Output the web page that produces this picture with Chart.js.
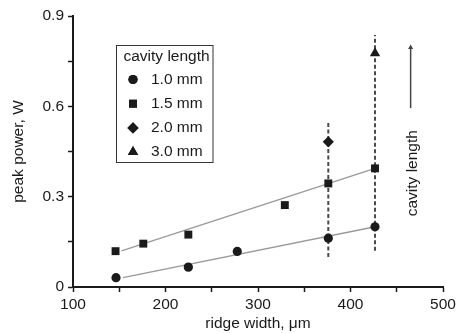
<!DOCTYPE html>
<html>
<head>
<meta charset="utf-8">
<script src="https://cdn.jsdelivr.net/npm/chart.js@4/dist/chart.umd.min.js"></script>
<style>
  html, body { margin: 0; padding: 0; background: #fff; }
  #wrap { width: 459px; height: 333px; position: relative; }
</style>
</head>
<body>
<div id="wrap"><canvas id="c" width="459" height="333"></canvas></div>
<script>
// ---- data ----
const xTickLabels = [100, 200, 300, 400, 500];
const yTickLabels = [0, 0.3, 0.6, 0.9];
const legendTitle = 'cavity length';
const seriesNames = ['1.0 mm', '1.5 mm', '2.0 mm', '3.0 mm'];

const width10x = [146.5, 224.7, 277.6, 376, 426.5];   // 1.0 mm ridge widths
const power10  = [0.031, 0.066, 0.118, 0.162, 0.200];
const width15x = [146, 176, 224.7, 329, 376, 426.5];  // 1.5 mm
const power15  = [0.119, 0.144, 0.174, 0.272, 0.344, 0.394];
const width20x = [376];                               // 2.0 mm
const power20  = [0.482];
const width30x = [426.5];                             // 3.0 mm
const power30  = [0.776];

const fit10x = [154, 426.5];
const fit10y = [0.031, 0.200];
const fit15x = [152.5, 426.5];
const fit15y = [0.120, 0.394];

const vline1x = [376, 376];
const vline1y = [0.100, 0.553];
const vline2x = [426.5, 426.5];
const vline2y = [0.120, 0.837];

const arrowX = [465, 465];
const arrowY = [0.594, 0.795];
const arrowLabel = 'cavity length';
const arrowLabelPos = [467.5, 0.378];

const xAxisTitle = 'ridge width, \u03bcm';
const yAxisTitle = 'peak power, W';

// ---- helpers ----
const pts = (xs, ys) => xs.map((x, i) => ({ x: x, y: ys[i] }));
const INK = '#1a1a1a';
const FONT = "'Liberation Sans', Arial, sans-serif";
const FS = 15.5;

const markerStyles = [
  { pointStyle: 'circle', radius: 4.6 },
  { pointStyle: 'rect', radius: 5.6 },
  { pointStyle: 'rectRot', radius: 5.6 },
  { pointStyle: 'triangle', radius: 6 }
];

function scatterSet(label, xs, ys, idx) {
  return {
    type: 'scatter', label: label, data: pts(xs, ys),
    pointStyle: markerStyles[idx].pointStyle,
    pointRadius: markerStyles[idx].radius,
    backgroundColor: INK, borderColor: INK, borderWidth: 0, order: 0
  };
}
function lineSet(xs, ys, color, width, dash) {
  return {
    type: 'line', data: pts(xs, ys), borderColor: color, borderWidth: width,
    borderDash: dash || [], pointRadius: 0, fill: false, order: 2
  };
}

const arrowSet = {
  type: 'line', data: pts(arrowX, arrowY), borderColor: '#444', borderWidth: 1.5,
  pointStyle: 'triangle', pointRadius: [0, 3], backgroundColor: '#444',
  pointBorderWidth: 0, fill: false, order: 1
};

const overlayPlugin = {
  id: 'overlay',
  afterDatasetsDraw(chart) {
    const ctx = chart.ctx;
    const xs = chart.scales.x, ys = chart.scales.y;
    ctx.save();
    // rotated arrow label
    ctx.translate(xs.getPixelForValue(arrowLabelPos[0]), ys.getPixelForValue(arrowLabelPos[1]));
    ctx.rotate(-Math.PI / 2);
    ctx.fillStyle = INK;
    ctx.font = FS + 'px ' + FONT;
    ctx.textAlign = 'center';
    ctx.textBaseline = 'middle';
    ctx.fillText(arrowLabel, 0, 0);
    ctx.restore();

    // legend box
    ctx.save();
    const bx = 116.5, by = 45.5, bw = 96.5, bh = 117;
    ctx.fillStyle = '#fff';
    ctx.fillRect(bx, by, bw, bh);
    ctx.strokeStyle = '#333';
    ctx.lineWidth = 1;
    ctx.strokeRect(bx, by, bw, bh);
    ctx.fillStyle = INK;
    ctx.font = FS + 'px ' + FONT;
    ctx.textBaseline = 'middle';
    ctx.textAlign = 'left';
    ctx.fillText(legendTitle, 123.5, 57);
    seriesNames.forEach((name, i) => {
      const yy = 79.5 + i * 24.2;
      ctx.fillStyle = INK;
      ctx.strokeStyle = INK;
      Chart.helpers.drawPoint(ctx, {
        pointStyle: markerStyles[i].pointStyle,
        radius: markerStyles[i].radius, rotation: 0, borderWidth: 0
      }, 133, yy);
      ctx.fill();
      ctx.fillStyle = INK;
      ctx.fillText(name, 151, yy);
    });
    ctx.restore();
  }
};

new Chart(document.getElementById('c'), {
  data: {
    datasets: [
      scatterSet(seriesNames[0], width10x, power10, 0),
      scatterSet(seriesNames[1], width15x, power15, 1),
      scatterSet(seriesNames[2], width20x, power20, 2),
      scatterSet(seriesNames[3], width30x, power30, 3),
      lineSet(fit10x, fit10y, '#9a9a9a', 1.4),
      lineSet(fit15x, fit15y, '#9a9a9a', 1.4),
      lineSet(vline1x, vline1y, '#4a4a4a', 2, [4, 2.5]),
      lineSet(vline2x, vline2y, '#4a4a4a', 2, [4, 2.5]),
      arrowSet
    ]
  },
  options: {
    responsive: false,
    animation: false,
    events: [],
    layout: { padding: { left: 0, top: 16, right: 16, bottom: 0 } },
    plugins: { legend: { display: false }, tooltip: { enabled: false } },
    scales: {
      x: {
        type: 'linear', min: xTickLabels[0], max: xTickLabels[xTickLabels.length - 1],
        afterFit(s) { s.height = 46; },
        border: { display: true, color: INK, width: 2 },
        grid: { drawOnChartArea: false, drawTicks: true, tickLength: 5, tickColor: INK, tickWidth: 1.5 },
        ticks: {
          stepSize: 50, autoSkip: false, maxRotation: 0, padding: 3, color: INK,
          font: { family: FONT, size: FS },
          callback: (v) => xTickLabels.includes(v) ? String(v) : ''
        },
        title: { display: true, text: xAxisTitle, color: INK, font: { family: FONT, size: FS }, padding: { top: 0, bottom: 0 } }
      },
      y: {
        type: 'linear', min: yTickLabels[0], max: yTickLabels[yTickLabels.length - 1],
        afterFit(s) { s.width = 73; },
        border: { display: true, color: INK, width: 2 },
        grid: { drawOnChartArea: false, drawTicks: true, tickLength: 5, tickColor: INK, tickWidth: 1.5 },
        ticks: {
          stepSize: 0.15, autoSkip: false, padding: 4, color: INK,
          font: { family: FONT, size: FS },
          callback: (v) => {
            const r = Math.round(v * 100) / 100;
            const hit = yTickLabels.find(t => Math.abs(t - r) < 1e-6);
            if (hit === undefined) return '';
            return hit === 0 ? '0' : hit.toFixed(1);
          }
        },
        title: { display: true, text: yAxisTitle, color: INK, font: { family: FONT, size: FS }, padding: { top: 9, bottom: 0 } }
      }
    }
  },
  plugins: [overlayPlugin]
});
</script>
</body>
</html>
